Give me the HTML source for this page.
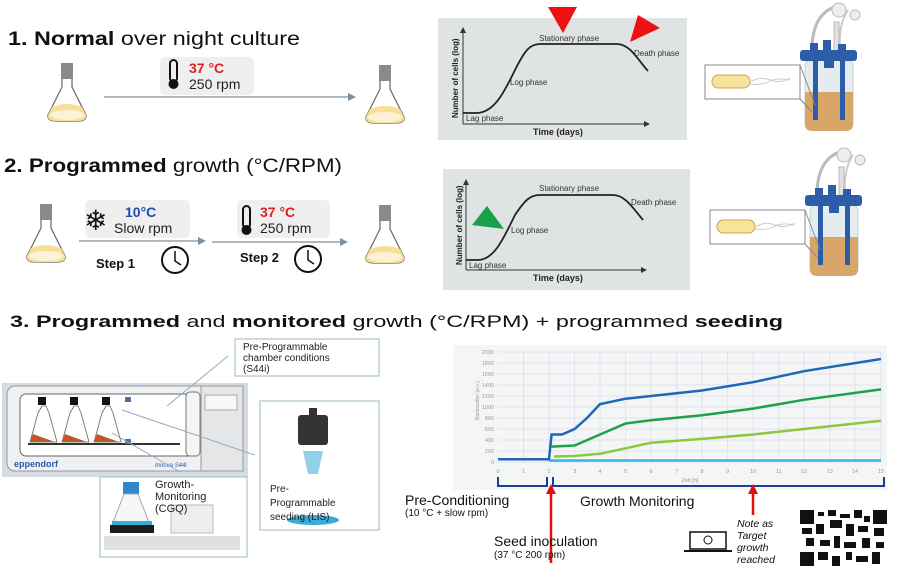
<!DOCTYPE html>
<html><head><meta charset="utf-8"><style>body{margin:0;background:#fff}svg{display:block}text{font-family:"Liberation Sans",sans-serif}</style></head><body>
<svg width="897" height="576" viewBox="0 0 897 576" xmlns="http://www.w3.org/2000/svg">
<defs>
<g id="flask">
<rect x="15" y="0" width="12" height="16" fill="#8a8a8a"/>
<path d="M16 16 L16 24 L2 52 Q1 58 10 58 L32 58 Q41 58 40 52 L26 24 L26 16" fill="#fff" stroke="#666" stroke-width="1.2"/>
<path d="M6 44 Q21 38 36 44 L40 52 Q41 58 32 58 L10 58 Q1 58 2 52Z" fill="#f7df98"/>
<ellipse cx="21" cy="52" rx="17" ry="5" fill="#fff" opacity=".6"/>
</g>
<g id="reactor">
<path d="M842 5 q-30 5 -30 45" fill="none" stroke="#bbb" stroke-width="3"/>
<path d="M848 10 q-10 15 -8 40" fill="none" stroke="#ccc" stroke-width="2"/>
<circle cx="839" cy="10" r="7" fill="#eee" stroke="#bbb"/>
<circle cx="855" cy="15" r="5" fill="#eee" stroke="#bbb"/>
<rect x="834" y="22" width="5" height="35" fill="#e0e0e0" stroke="#bbb"/>
<rect x="805" y="60" width="48" height="70" rx="6" fill="#e4ecf0" stroke="#c5d0d6"/>
<path d="M805 92 L853 92 L853 124 Q853 131 846 131 L812 131 Q805 131 805 124Z" fill="#d9a66a"/>
<rect x="800" y="50" width="57" height="11" rx="3" fill="#2c5da8"/>
<rect x="810" y="43" width="8" height="9" fill="#2c5da8"/><rect x="823" y="40" width="8" height="12" fill="#2c5da8"/><rect x="838" y="44" width="8" height="8" fill="#2c5da8"/>
<rect x="813" y="60" width="5" height="60" fill="#2c5da8"/><rect x="840" y="60" width="5" height="60" fill="#2c5da8"/>
<rect x="824" y="60" width="10" height="8" fill="#2c5da8"/>
<rect x="705" y="65" width="95" height="34" fill="#fff" stroke="#888"/>
<line x1="800" y1="65" x2="815" y2="105" stroke="#888"/><line x1="800" y1="99" x2="812" y2="112" stroke="#888"/>
<rect x="712" y="75" width="38" height="13" rx="6.5" fill="#f7e39c" stroke="#c9a84a"/>
<path d="M750 82 q10 -6 20 -2 q10 4 20 -2 M750 84 q12 2 22 -4 q8 -2 18 0" fill="none" stroke="#ccc"/>
</g>
</defs>

<text x="8" y="45" font-size="19" textLength="292" lengthAdjust="spacingAndGlyphs" fill="#111"><tspan font-weight="bold">1. Normal</tspan> over night culture</text>
<use href="#flask" x="46" y="63"/>
<rect x="160" y="57" width="94" height="38" rx="5" fill="#efefef"/>
<rect x="170" y="60" width="7" height="22" rx="3.5" fill="none" stroke="#111" stroke-width="2"/><circle cx="173.5" cy="84" r="5" fill="#111"/>
<text x="189" y="73" font-size="14" font-weight="bold" fill="#e02020">37 °C</text>
<text x="189" y="89" font-size="14" fill="#222">250 rpm</text>
<line x1="104" y1="97" x2="350" y2="97" stroke="#7a8fa0" stroke-width="1.2"/><path d="M348 93 L356 97 L348 101Z" fill="#7a8fa0"/>
<use href="#flask" x="364" y="65"/>

<text x="4" y="172" font-size="19" textLength="338" lengthAdjust="spacingAndGlyphs" fill="#111"><tspan font-weight="bold">2. Programmed</tspan> growth (°C/RPM)</text>
<use href="#flask" x="25" y="204"/>
<rect x="85" y="200" width="105" height="38" rx="5" fill="#efefef"/>
<text x="84" y="230" font-size="28" fill="#111">❄</text>
<text x="125" y="217" font-size="14" font-weight="bold" fill="#1f4fa8">10°C</text>
<text x="114" y="233" font-size="14" fill="#222">Slow rpm</text>
<line x1="79" y1="241" x2="200" y2="241" stroke="#7a8fa0" stroke-width="1.2"/><path d="M198 237 L206 241 L198 245Z" fill="#7a8fa0"/>
<text x="96" y="268" font-size="13" font-weight="bold" fill="#111">Step 1</text>
<circle cx="175" cy="260" r="13" fill="#fff" stroke="#111" stroke-width="2"/><path d="M175 251 L175 261 L181 265" fill="none" stroke="#111" stroke-width="1.5"/>
<rect x="237" y="200" width="93" height="38" rx="5" fill="#efefef"/>
<rect x="243" y="206" width="7" height="22" rx="3.5" fill="none" stroke="#111" stroke-width="2"/><circle cx="246.5" cy="230" r="5" fill="#111"/>
<text x="260" y="217" font-size="14" font-weight="bold" fill="#e02020">37 °C</text>
<text x="260" y="233" font-size="14" fill="#222">250 rpm</text>
<line x1="212" y1="242" x2="342" y2="242" stroke="#7a8fa0" stroke-width="1.2"/><path d="M340 238 L348 242 L340 246Z" fill="#7a8fa0"/>
<text x="240" y="262" font-size="13" font-weight="bold" fill="#111">Step 2</text>
<circle cx="308" cy="259" r="13" fill="#fff" stroke="#111" stroke-width="2"/><path d="M308 250 L308 260 L314 264" fill="none" stroke="#111" stroke-width="1.5"/>
<use href="#flask" x="364" y="205"/>

<rect x="438" y="18" width="249" height="122" fill="#dfe3e4"/>
<line x1="463" y1="30" x2="463" y2="124" stroke="#333"/><path d="M460 33 L463 27 L466 33Z" fill="#333"/>
<line x1="463" y1="124" x2="646" y2="124" stroke="#333"/><path d="M644 121 L650 124 L644 127Z" fill="#333"/>
<path d="M463 113 L476 113 C495 113 505 90 515 70 C525 50 530 44 540 44 L617 44 C630 44 638 60 648 71" fill="none" stroke="#222" stroke-width="1.8"/>
<text x="0" y="0" font-size="8" font-weight="bold" fill="#222" transform="translate(458 118) rotate(-90)">Number of cells (log)</text>
<text x="466" y="121" font-size="8" fill="#333">Lag phase</text>
<text x="510" y="85" font-size="8" fill="#333">Log phase</text>
<text x="539" y="41" font-size="8" fill="#333">Stationary phase</text>
<text x="634" y="56" font-size="8" fill="#333">Death phase</text>
<text x="533" y="135" font-size="9" font-weight="bold" fill="#222">Time (days)</text>
<path d="M548 7 L577 7 L563 33Z" fill="#ee1111"/>
<path d="M638 15 L660 28 L630 42Z" fill="#ee1111"/>

<rect x="443" y="169" width="247" height="121" fill="#dfe3e4"/>
<line x1="466" y1="182" x2="466" y2="270" stroke="#333"/><path d="M463 185 L466 179 L469 185Z" fill="#333"/>
<line x1="466" y1="270" x2="643" y2="270" stroke="#333"/><path d="M641 267 L647 270 L641 273Z" fill="#333"/>
<path d="M466 260 L478 260 C495 260 505 235 515 215 C525 200 530 195 540 195 L613 195 C625 195 633 208 643 220" fill="none" stroke="#222" stroke-width="1.8"/>
<text x="0" y="0" font-size="8" font-weight="bold" fill="#222" transform="translate(462 265) rotate(-90)">Number of cells (log)</text>
<text x="469" y="268" font-size="8" fill="#333">Lag phase</text>
<text x="511" y="233" font-size="8" fill="#333">Log phase</text>
<text x="539" y="191" font-size="8" fill="#333">Stationary phase</text>
<text x="631" y="205" font-size="8" fill="#333">Death phase</text>
<text x="533" y="281" font-size="9" font-weight="bold" fill="#222">Time (days)</text>
<path d="M472 225 L487 206 L504 229Z" fill="#1aa04a"/>

<use href="#reactor"/>
<use href="#reactor" transform="translate(5 145)"/>

<text x="10" y="327" font-size="17" textLength="773" lengthAdjust="spacingAndGlyphs" fill="#111"><tspan font-weight="bold">3. Programmed</tspan> and <tspan font-weight="bold">monitored</tspan> growth (°C/RPM) + programmed <tspan font-weight="bold">seeding</tspan></text>

<rect x="2" y="383" width="246" height="94" fill="#d4dbe2"/>
<rect x="7" y="386" width="236" height="85" rx="8" fill="#eef0f2" stroke="#999"/>
<rect x="20" y="394" width="174" height="62" rx="6" fill="#fff" stroke="#666"/>
<rect x="186" y="392" width="14" height="64" rx="4" fill="#f5f5f5" stroke="#777"/>
<rect x="201" y="386" width="42" height="85" fill="#e4e6e8" stroke="#999"/>
<rect x="205" y="395" width="32" height="15" fill="#f7f7f7" stroke="#aaa"/>
<line x1="28" y1="444" x2="180" y2="444" stroke="#333" stroke-width="2"/>
<g fill="#fff" stroke="#666" stroke-width=".8">
<path d="M42 406 L38 413 L30 442 L57 442 L49 413 L46 406Z"/><path d="M74 406 L70 413 L62 442 L89 442 L81 413 L78 406Z"/><path d="M106 406 L102 413 L94 442 L121 442 L113 413 L110 406Z"/>
</g>
<g fill="#c0592a"><path d="M33 434 L55 442 L30 442Z"/><path d="M65 434 L87 442 L62 442Z"/><path d="M97 434 L119 442 L94 442Z"/></g>
<g fill="#111"><rect x="38" y="397" width="8" height="8"/><rect x="70" y="397" width="8" height="8"/><rect x="102" y="397" width="8" height="8"/></g>
<rect x="125" y="397" width="6" height="5" fill="#4a6fa8"/><rect x="125" y="439" width="6" height="5" fill="#4a6fa8"/>
<text x="14" y="467" font-size="9" font-weight="bold" fill="#2a5aa8">eppendorf</text>
<text x="155" y="467" font-size="6" font-style="italic" fill="#2a5aa8">Innova S44i</text>
<line x1="167" y1="406" x2="228" y2="356" stroke="#9ab"/>
<line x1="122" y1="410" x2="255" y2="455" stroke="#9ab"/>
<line x1="112" y1="433" x2="180" y2="472" stroke="#9ab"/>
<rect x="235" y="339" width="144" height="37" fill="#fff" stroke="#9bb"/>
<text x="243" y="350" font-size="10" fill="#222">Pre-Programmable</text>
<text x="243" y="361" font-size="10" fill="#222">chamber conditions</text>
<text x="243" y="372" font-size="10" fill="#222">(S44i)</text>
<rect x="260" y="401" width="119" height="129" fill="#fff" stroke="#9bb"/>
<rect x="298" y="415" width="30" height="30" rx="3" fill="#333"/><rect x="309" y="408" width="8" height="8" fill="#333"/>
<path d="M303 451 L323 451 L318 474 L308 474Z" fill="#8fd0ea"/>
<ellipse cx="313" cy="520" rx="26" ry="5" fill="#3aaad8"/>
<text x="270" y="492" font-size="10" fill="#222">Pre-</text>
<text x="270" y="506" font-size="10" fill="#222">Programmable</text>
<text x="270" y="520" font-size="10" fill="#222">seeding (LIS)</text>
<rect x="100" y="477" width="147" height="80" fill="#fff" stroke="#9bb"/>
<rect x="123" y="482" width="16" height="12" fill="#2a8acc"/>
<path d="M124 494 L112 525 L150 525 L138 494Z" fill="#f4f6f8" stroke="#aaa"/>
<rect x="110" y="525" width="44" height="8" fill="#1c1c1c"/><rect x="112" y="521" width="40" height="4" fill="#3aaad8"/>
<rect x="171" y="505" width="42" height="28" fill="#eee" stroke="#bbb"/>
<rect x="104" y="536" width="136" height="14" fill="#e0e0e0"/>
<text x="155" y="488" font-size="11" fill="#222">Growth-</text>
<text x="155" y="500" font-size="11" fill="#222">Monitoring</text>
<text x="155" y="512" font-size="11" fill="#222">(CGQ)</text>

<rect x="453" y="345" width="434" height="145" fill="#f4f6f6"/>
<g stroke="#dde" stroke-width=".8">
<line x1="498" y1="352" x2="881" y2="352"/><line x1="498" y1="363" x2="881" y2="363"/><line x1="498" y1="374" x2="881" y2="374"/><line x1="498" y1="385" x2="881" y2="385"/><line x1="498" y1="396" x2="881" y2="396"/><line x1="498" y1="407" x2="881" y2="407"/><line x1="498" y1="418" x2="881" y2="418"/><line x1="498" y1="429" x2="881" y2="429"/><line x1="498" y1="440" x2="881" y2="440"/><line x1="498" y1="451" x2="881" y2="451"/><line x1="498" y1="462" x2="881" y2="462"/>
<line x1="523.5" y1="352" x2="523.5" y2="462"/><line x1="549" y1="352" x2="549" y2="462"/><line x1="574.6" y1="352" x2="574.6" y2="462"/><line x1="600" y1="352" x2="600" y2="462"/><line x1="625.6" y1="352" x2="625.6" y2="462"/><line x1="651" y1="352" x2="651" y2="462"/><line x1="676.7" y1="352" x2="676.7" y2="462"/><line x1="702" y1="352" x2="702" y2="462"/><line x1="727.7" y1="352" x2="727.7" y2="462"/><line x1="753" y1="352" x2="753" y2="462"/><line x1="778.7" y1="352" x2="778.7" y2="462"/><line x1="804" y1="352" x2="804" y2="462"/><line x1="829.8" y1="352" x2="829.8" y2="462"/><line x1="855" y1="352" x2="855" y2="462"/><line x1="881" y1="352" x2="881" y2="462"/>
</g>
<g font-size="5.5" fill="#999" text-anchor="end">
<text x="494" y="354">2000</text><text x="494" y="365">1800</text><text x="494" y="376">1600</text><text x="494" y="387">1400</text><text x="494" y="398">1200</text><text x="494" y="409">1000</text><text x="494" y="420">800</text><text x="494" y="431">600</text><text x="494" y="442">400</text><text x="494" y="453">200</text><text x="494" y="464">0</text>
</g>
<g font-size="5.5" fill="#999" text-anchor="middle">
<text x="498" y="473">0</text><text x="523.5" y="473">1</text><text x="549" y="473">2</text><text x="574.6" y="473">3</text><text x="600" y="473">4</text><text x="625.6" y="473">5</text><text x="651" y="473">6</text><text x="676.7" y="473">7</text><text x="702" y="473">8</text><text x="727.7" y="473">9</text><text x="753" y="473">10</text><text x="778.7" y="473">11</text><text x="804" y="473">12</text><text x="829.8" y="473">13</text><text x="855" y="473">14</text><text x="881" y="473">15</text>
<text x="690" y="482">Zeit [h]</text>
</g>
<text font-size="5" fill="#999" transform="translate(479 420) rotate(-90)">Backscatter [a.u.]</text>
<polyline points="549,460.5 881,460.5" fill="none" stroke="#33b5e5" stroke-width="2.5"/>
<polyline points="554,456.5 574.6,456 600,453.8 625.6,448.3 651,442.8 702,438.9 753,434.5 804,429 881,420.8" fill="none" stroke="#8cc83c" stroke-width="2.5"/>
<polyline points="551.6,446.6 574.6,445.5 600,434.5 625.6,423.5 651,420.2 702,415.2 753,408.6 804,399.8 881,389.4" fill="none" stroke="#1fa04a" stroke-width="2.5"/>
<polyline points="498,459.3 549,459.3 551.6,434.5 562,434.5 574.6,429 587,418 600,404.2 625.6,398.7 651,396 702,390.5 753,382.2 804,371.2 881,359" fill="none" stroke="#1f66b8" stroke-width="2.5"/>
<path d="M498 477 L498 486 L547 486 L547 477 M553 477 L553 486 L884 486 L884 477" fill="none" stroke="#1a3f9a" stroke-width="2"/>
<line x1="551" y1="563" x2="551" y2="492" stroke="#e01010" stroke-width="2.5"/><path d="M546 494 L551 484 L556 494Z" fill="#e01010"/>
<line x1="753" y1="515" x2="753" y2="492" stroke="#e01010" stroke-width="2.5"/><path d="M748 494 L753 484 L758 494Z" fill="#e01010"/>
<text x="405" y="505" font-size="14" fill="#111">Pre-Conditioning</text>
<text x="405" y="516" font-size="10" fill="#111">(10 °C + slow rpm)</text>
<text x="580" y="506" font-size="14" fill="#111">Growth Monitoring</text>
<text x="494" y="546" font-size="14" fill="#111">Seed inoculation</text>
<text x="494" y="558" font-size="10" fill="#111">(37 °C 200 rpm)</text>
<rect x="690" y="532" width="36" height="17" fill="#fff" stroke="#111" stroke-width="1.5"/><line x1="684" y1="551" x2="732" y2="551" stroke="#111" stroke-width="2"/>
<circle cx="708" cy="540" r="4" fill="none" stroke="#111"/>
<g font-size="10.5" font-style="italic" fill="#111"><text x="737" y="527">Note as</text><text x="737" y="539">Target</text><text x="737" y="551">growth</text><text x="737" y="563">reached</text></g>
<rect x="800" y="510" width="87" height="56" fill="#fff"/>
<g fill="#111">
<rect x="800" y="510" width="14" height="14"/><rect x="873" y="510" width="14" height="14"/><rect x="800" y="552" width="14" height="14"/>
<rect x="818" y="512" width="6" height="4"/><rect x="828" y="510" width="8" height="6"/><rect x="840" y="514" width="10" height="4"/><rect x="854" y="510" width="8" height="8"/><rect x="864" y="516" width="6" height="6"/>
<rect x="802" y="528" width="10" height="6"/><rect x="816" y="524" width="8" height="10"/><rect x="830" y="520" width="12" height="8"/><rect x="846" y="524" width="8" height="12"/><rect x="858" y="526" width="10" height="6"/><rect x="874" y="528" width="10" height="8"/>
<rect x="806" y="538" width="8" height="8"/><rect x="820" y="540" width="10" height="6"/><rect x="834" y="536" width="6" height="12"/><rect x="844" y="542" width="12" height="6"/><rect x="862" y="538" width="8" height="10"/><rect x="876" y="542" width="8" height="6"/>
<rect x="818" y="552" width="10" height="8"/><rect x="832" y="556" width="8" height="10"/><rect x="846" y="552" width="6" height="8"/><rect x="856" y="556" width="12" height="6"/><rect x="872" y="552" width="8" height="12"/>
</g>
</svg>
</body></html>
